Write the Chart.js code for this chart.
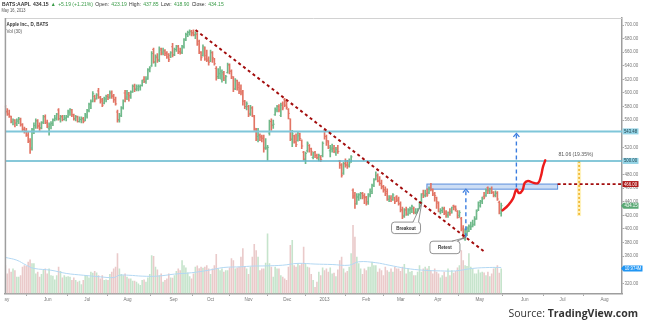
<!DOCTYPE html>
<html>
<head>
<meta charset="utf-8">
<title>Apple Inc. daily bars</title>
<script src="https://cdn.jsdelivr.net/npm/chart.js@4.4.1/dist/chart.umd.min.js"></script>
<style>
  html, body { margin: 0; padding: 0; background: #fff; }
  #wrap { position: relative; width: 645px; height: 324px; }
</style>
</head>
<body>
<div id="wrap"><canvas id="aaplChart" width="645" height="324"></canvas></div>
<script>
// BATS:AAPL daily bars, 1 May 2012 .. 16 May 2013, x = trading-day index
const opens = [
  580,573,569,565,557,560,555,558,561,553, 547,544,538,529,519,547,552,559,552,549,
  557,565,556,548,553,555,561,562,575,562, 565,561,563,565,571,575,568,562,565,558,
  561,562,560,566,574,584,588,595,592,603, 593,590,585,591,595,594,600,596,590,572,
  560,567,578,600,594,598,594,602,610,605, 606,609,611,620,617,621,634,640,664,645,
  652,648,665,660,662,659,657,655,668,656, 664,669,661,660,668,679,686,689,691,689,
  685,686,676,660,655,666,655,650,647,659, 650,636,624,629,620,628,619,630,641,632,
  622,606,618,612,606,602,588,580,580,570, 578,565,546,536,538,536,535,520,518,541,
  558,553,568,575,580,567,584,590,588,576, 562,532,537,528,530,540,530,513,502,515,
  523,518,505,513,508,503,506,508,544,536, 528,515,519,518,512,519,500,494,482,496,
  494,494,499,457,449,437,447,451,452,449, 446,440,450,455,464,473,479,470,467,462,
  458,455,443,445,443,446,448,444,437,428, 420,428,421,428,430,430,425,424,430,440,
  452,449,452,453,461,458,452,446,438,425, 427,430,423,420,424,426,434,432,426,420,
  415,401,385,392,401,403,404,407,415,428, 434,441,448,449,461,457,459,454,450,453,
  439,423.19
];
const highs = [
  582,577,575,566,562,561,562,564,563,555, 550,548,543,533,548,556,562,561,556,558,
  567,568,560,556,558,562,567,570,577,567, 567,567,567,575,577,576,569,567,566,565,
  565,564,570,576,585,590,602,597,599,607, 595,592,594,597,598,603,603,598,594,575,
  570,580,590,604,604,601,603,612,613,612, 612,612,619,624,624,636,639,661,666,656,
  658,668,666,666,664,661,658,661,673,666, 670,670,666,670,680,688,691,693,692,693,
  690,688,678,661,671,668,663,653,663,661, 651,639,636,639,634,632,626,644,643,634,
  624,621,619,616,612,604,589,587,582,582, 580,567,548,548,540,538,538,533,523,560,
  562,560,578,582,583,585,587,592,590,577, 562,545,538,540,543,541,531,514,513,528,
  524,519,513,514,510,510,508,528,545,538, 530,523,525,523,520,523,501,496,498,503,
  501,503,508,459,454,452,452,454,454,452, 448,452,459,466,474,484,481,477,472,464,
  462,459,449,449,452,447,449,447,440,432, 430,432,430,432,435,432,430,430,440,452,
  457,457,459,462,467,459,454,447,440,430, 432,432,427,425,430,432,435,434,427,427,
  417,405,400,403,406,410,413,418,428,440, 442,447,454,459,462,460,462,455,456,455,
  441,437.85
];
const lows = [
  570,567,564,556,553,550,552,555,551,544, 541,536,527,511,516,540,548,548,545,547,
  555,555,549,538,547,552,559,560,560,557, 559,560,559,564,567,565,560,559,557,557,
  556,556,559,563,572,577,587,587,591,592, 585,580,584,587,590,592,592,586,582,557,
  557,565,576,587,590,588,592,601,602,603, 603,604,610,615,614,620,631,639,644,639,
  645,646,656,656,655,651,646,652,653,655, 661,658,657,658,666,677,683,685,684,684,
  680,670,658,648,654,648,646,641,646,645, 641,619,621,621,616,618,614,629,628,621,
  602,605,604,599,597,582,577,575,565,567, 565,545,530,528,530,528,513,517,501,538,
  545,548,567,572,572,565,575,580,576,562, 530,521,526,521,529,530,518,501,496,513,
  513,508,503,505,503,500,499,506,532,523, 518,506,513,512,508,511,489,476,480,491,
  489,491,498,445,430,436,442,444,444,437, 435,436,447,452,462,472,469,464,459,454,
  449,442,440,440,442,437,440,435,425,415, 417,420,420,422,424,422,422,417,427,437,
  446,447,448,452,456,449,441,430,425,422, 424,421,417,417,420,423,428,426,416,417,
  397,386,383,390,396,399,403,405,414,427, 432,437,444,448,452,452,452,447,447,442,
  422,418.90
];
const closes = [
  572,569,566,558,560,556,560,562,554,546, 544,538,529,517,546,552,559,551,548,556,
  565,557,551,554,555,560,563,569,562,565, 561,563,565,573,576,568,562,565,558,561,
  562,558,568,574,583,587,599,590,597,594, 588,582,592,595,593,600,595,590,584,561,
  566,578,588,592,600,596,601,610,606,609, 610,611,618,617,620,634,637,658,646,654,
  649,663,658,662,658,653,649,659,656,664, 668,660,659,668,678,686,689,690,687,686,
  688,672,660,652,668,650,648,645,660,652, 643,624,628,632,630,622,624,642,632,624,
  606,619,608,602,600,588,580,584,568,578, 567,548,532,538,535,533,518,520,520,558,
  552,554,576,580,575,582,578,582,579,570, 532,540,528,524,537,533,522,503,511,526,
  518,514,512,508,505,508,502,526,536,530, 520,517,519,514,517,514,494,479,496,494,
  492,497,506,447,437,447,450,452,447,447, 438,451,452,464,472,478,471,467,462,457,
  452,444,446,443,450,440,442,437,428,418, 428,422,428,429,433,424,425,429,439,450,
  450,450,450,459,458,450,449,440,426,427, 429,425,421,424,423,432,433,429,417,424,
  399,389,388,396,404,403,406,414,426,439, 440,444,447,457,456,459,454,449,452,444,
  428.96,434.15
];
// volume, millions of shares
const volumes = [
  12.4,8.8,11.0,9.5,11.0,10.2,7.3,7.3,8.0,11.7, 12.4,12.0,13.9,14.9,13.2,13.2,8.8,9.5,7.3,8.5,
  10.5,11.0,8.8,11.0,8.0,7.8,6.1,8.0,11.7,9.9, 7.0,8.0,7.3,7.6,7.3,5.9,7.0,5.9,5.1,5.6,
  4.1,5.9,8.0,8.0,7.0,9.5,9.1,9.9,9.2,8.0, 6.6,8.0,5.9,6.1,5.9,8.5,9.5,11.0,11.7,17.6,
  11.0,8.5,8.0,8.8,7.3,6.6,6.6,5.6,5.6,5.1, 4.4,3.7,5.9,6.1,5.1,7.0,8.5,16.8,16.4,11.7,
  10.5,8.0,8.8,5.1,5.9,6.6,8.8,7.0,6.9,8.0, 9.9,11.0,10.2,14.6,12.4,11.4,9.2,7.6,6.6,8.8,
  11.7,12.3,11.1,11.7,11.3,11.7,12.4,11.0,8.5,11.0, 12.4,17.3,11.0,10.2,11.0,9.5,10.2,10.2,11.4,15.4,
  14.6,11.0,11.4,11.7,16.1,19.8,12.0,11.0,8.5,11.7, 16.1,21.7,19.0,16.1,10.2,11.0,11.0,13.5,26.3,13.2,
  11.7,7.3,11.7,11.0,11.0,8.0,7.3,6.6,5.9,11.7, 21.2,23.4,12.4,11.7,13.2,12.4,13.2,20.5,13.2,11.7,
  11.4,8.5,5.9,2.9,5.1,9.5,8.0,11.4,10.2,11.0, 9.5,11.4,8.8,9.1,7.6,10.5,14.6,16.1,11.0,9.2,
  9.9,11.7,17.6,30.0,24.9,16.1,13.2,11.0,8.5,11.0, 10.2,11.7,11.7,13.9,12.4,12.4,9.5,11.0,10.2,8.0,
  11.7,10.2,9.5,11.0,9.5,11.7,11.0,11.0,9.9,11.7, 12.9,8.8,11.0,9.5,9.9,8.0,8.0,9.5,12.4,9.5,
  11.0,11.7,11.0,12.0,10.2,8.8,11.0,9.5,8.8,7.0, 8.0,9.5,7.3,11.0,8.0,10.2,9.1,9.9,11.4,12.4,
  19.0,14.6,12.4,12.0,17.6,11.7,11.0,8.8,8.8,10.5, 9.2,9.5,9.2,8.0,9.5,7.6,8.8,11.0,11.4,12.4,
  9.1,10.974
];
// 30-day volume average, read at selected bars
const volAvgIdx = [0,6,11,15,24,32,41,50,57,60,65,72,80,89,98,107,115,124,130,137,146,154,163,172,181,186,195,202,211,220,229,237,246,255,261];
const volAvg = [15.8,14.6,12.4,11.0,10.2,8.8,8.0,7.3,7.0,8.0,8.0,7.6,7.6,8.5,9.1,10.2,11.4,11.7,12.0,12.1,12.4,13.2,12.9,12.7,12.4,13.9,13.5,12.4,11.0,10.2,9.9,9.9,11.0,11.4,11.4];

const monthTicks = [-0.3, 22.3, 43.1, 64.3, 88.5, 108, 128, 148.4, 168, 190, 208.2, 227.7, 249.7, 273.4, 293.3, 315.4];
const monthLabels = ['May','Jun','Jul','Aug','Sep','Oct','Nov','Dec','2013','Feb','Mar','Apr','May','Jun','Jul','Aug'];
const priceTicks = [320,360,380,400,420,440,460,480,500,520,560,580,600,620,640,660,680,700];

// drawn levels
const resistance = 543.48;
const support = 500;
const neckline = 466;
const rangeLow = 418.94;
const zone = { from: 221.9, to: 290.7, top: 466, bottom: 458.5 };
const trend = [{ x: 100.1, y: 692.6 }, { x: 252.4, y: 366 }];
const projection = [
  { x: 261.7, y: 427.3 }, { x: 264.6, y: 434.7 }, { x: 267.2, y: 444.6 }, { x: 269.0, y: 457.8 },
  { x: 270.4, y: 452.8 }, { x: 272.2, y: 456.8 }, { x: 273.4, y: 467.6 }, { x: 275.1, y: 470.5 },
  { x: 277.7, y: 468.2 }, { x: 280.4, y: 467.6 }, { x: 281.8, y: 476.4 }, { x: 283.0, y: 491.2 },
  { x: 284.2, y: 501.0 }
];
const arrowUpA = [{ x: 242.4, y: 387.6 }, { x: 242.4, y: 457 }];
const arrowUpB = [{ x: 269.0, y: 461 }, { x: 269.0, y: 539 }];
const rangeIdx = 302;

const xMin = -0.26, xMax = 324.6;
const last = closes.length - 1;
const FONT = "'Liberation Sans', 'DejaVu Sans', Arial, sans-serif";

const isUp = closes.map((c, i) => c >= opens[i]);
const barColors = isUp.map(u => u ? '#6fb98a' : '#e27565');
const volColors = isUp.map(u => u ? '#c6e4cc' : '#eacaca');

function text(ctx, str, x, y, font, color, align, sx) {
  ctx.save();
  ctx.font = font;
  ctx.fillStyle = color;
  ctx.textBaseline = 'middle';
  ctx.textAlign = align || 'left';
  ctx.translate(x, y);
  ctx.scale(sx || 1, 1);
  ctx.fillText(str, 0, 0);
  ctx.restore();
}

function tag(ctx, yPix, str, bg, fg, width, pointer) {
  const x0 = 622.5, h = 6;
  ctx.save();
  ctx.fillStyle = bg;
  ctx.beginPath();
  if (pointer) {
    ctx.moveTo(x0 - 1.5, yPix);
    ctx.lineTo(x0 + 1, yPix - h / 2);
  } else {
    ctx.moveTo(x0, yPix - h / 2);
  }
  ctx.lineTo(x0 + width, yPix - h / 2);
  ctx.lineTo(x0 + width, yPix + h / 2);
  ctx.lineTo(pointer ? x0 + 1 : x0, yPix + h / 2);
  ctx.closePath();
  ctx.fill();
  ctx.restore();
  text(ctx, str, x0 + width / 2 + (pointer ? 0.5 : 0), yPix + 0.3, '4.5px ' + FONT, fg, 'center', 0.95);
}

function callout(ctx, cx, cy, w, h, baseA, baseB, ax, ay, str) {
  ctx.save();
  ctx.lineWidth = 0.8;
  ctx.strokeStyle = '#777';
  ctx.fillStyle = '#fff';
  ctx.beginPath();
  ctx.roundRect(cx - w / 2, cy - h / 2, w, h, 3);
  ctx.fill();
  ctx.stroke();
  const top = cy - h / 2;
  ctx.beginPath();
  ctx.moveTo(cx + baseA, top + 0.6);
  ctx.lineTo(ax, ay);
  ctx.lineTo(cx + baseB, top + 0.6);
  ctx.closePath();
  ctx.fill();
  ctx.beginPath();
  ctx.moveTo(cx + baseA, top);
  ctx.lineTo(ax, ay);
  ctx.lineTo(cx + baseB, top);
  ctx.stroke();
  ctx.restore();
  text(ctx, str, cx, cy + 0.3, 'bold 5px ' + FONT, '#333', 'center', 0.9);
}

const decor = {
  id: 'decor',
  beforeDatasetsDraw(chart) {
    const { ctx, chartArea: a, scales: { x, y } } = chart;
    ctx.save();
    ctx.beginPath();
    ctx.rect(a.left, a.top, a.right - a.left, a.bottom - a.top);
    ctx.clip();
    // resistance zone box
    const zx1 = x.getPixelForValue(zone.from), zx2 = x.getPixelForValue(zone.to);
    const zy1 = y.getPixelForValue(zone.top), zy2 = y.getPixelForValue(zone.bottom);
    ctx.fillStyle = 'rgba(192, 214, 243, 0.8)';
    ctx.fillRect(zx1, zy1, zx2 - zx1, zy2 - zy1);
    ctx.strokeStyle = '#5a8edb';
    ctx.lineWidth = 1;
    ctx.strokeRect(zx1, zy1, zx2 - zx1, zy2 - zy1);
    // measured move band
    const rx = x.getPixelForValue(rangeIdx);
    const ry1 = y.getPixelForValue(support), ry2 = y.getPixelForValue(rangeLow);
    ctx.fillStyle = 'rgba(255, 236, 160, 0.7)';
    ctx.fillRect(rx - 2, ry1, 4, ry2 - ry1);
    ctx.strokeStyle = '#eea914';
    ctx.lineWidth = 1.4;
    ctx.setLineDash([2, 2]);
    ctx.beginPath();
    ctx.moveTo(rx, ry1);
    ctx.lineTo(rx, ry2);
    ctx.stroke();
    ctx.restore();
  },
  afterDatasetsDraw(chart) {
    const { ctx, scales: { x, y } } = chart;
    // arrow heads on the dashed targets
    ctx.save();
    ctx.strokeStyle = '#3b7de0';
    ctx.lineWidth = 1.3;
    [arrowUpA, arrowUpB].forEach(seg => {
      const px = x.getPixelForValue(seg[1].x), py = y.getPixelForValue(seg[1].y) - 1;
      ctx.beginPath();
      ctx.moveTo(px - 3, py + 3.5);
      ctx.lineTo(px, py);
      ctx.lineTo(px + 3, py + 3.5);
      ctx.stroke();
    });
    ctx.restore();

    callout(ctx, x.getPixelForValue(210.9), y.getPixelForValue(401.6), 29, 11.5, 7, 12.5,
      x.getPixelForValue(219.1), y.getPixelForValue(437.2), 'Breakout');
    callout(ctx, x.getPixelForValue(231.4), y.getPixelForValue(372.8), 30, 12.5, 7, 12,
      x.getPixelForValue(242.4), y.getPixelForValue(387.6), 'Retest');

    const move = (support - rangeLow).toFixed(2);
    const pct = ((support - rangeLow) / rangeLow * 100).toFixed(2);
    text(ctx, move + ' (' + pct + '%)', x.getPixelForValue(291.2), y.getPixelForValue(509.9),
      '5.5px ' + FONT, '#555', 'left', 0.92);

    text(ctx, 'Apple Inc., D, BATS', 6.5, 24.5, 'bold 5.5px ' + FONT, '#333', 'left', 0.82);
    text(ctx, 'Vol (30)', 6.5, 31, '5.5px ' + FONT, '#555', 'left', 0.82);
  },
  afterDraw(chart) {
    const { ctx, chartArea: a, scales: { y, yv } } = chart;
    // pane frame
    ctx.save();
    ctx.strokeStyle = '#d2d2d2';
    ctx.lineWidth = 1;
    ctx.beginPath();
    ctx.moveTo(a.left, a.top + 0.5);
    ctx.lineTo(a.right, a.top + 0.5);
    ctx.stroke();
    ctx.strokeStyle = '#9e9e9e';
    ctx.lineWidth = 1.5;
    ctx.beginPath();
    ctx.moveTo(a.left + 0.5, a.top);
    ctx.lineTo(a.left + 0.5, a.bottom);
    ctx.stroke();
    // month labels stop at the pane edge
    ctx.fillStyle = '#fff';
    ctx.fillRect(0, a.bottom + 2, a.left - 0.3, 12);
    ctx.restore();

    // price scale tags
    tag(ctx, y.getPixelForValue(resistance), resistance.toFixed(2), '#93d3e5', '#1d3f4a', 16);
    tag(ctx, y.getPixelForValue(support), support.toFixed(2), '#93d3e5', '#1d3f4a', 16);
    tag(ctx, y.getPixelForValue(neckline), neckline.toFixed(2), '#ad1a1a', '#fff', 16);
    tag(ctx, y.getPixelForValue(closes[last]), closes[last].toFixed(2), '#5aa874', '#fff', 16, true);
    tag(ctx, yv.getPixelForValue(volumes[last]), volumes[last].toFixed(3) + 'M', '#2196f3', '#fff', 20, true);

    // symbol header
    const green = '#3a9b48';
    const chg = closes[last] - closes[last - 1];
    const segs = [
      ['BATS:AAPL', '#333', 'bold '], [closes[last].toFixed(2), '#333', 'bold '],
      ['\u25B2', green, ''], ['+' + chg.toFixed(2) + ' (+' + (chg / closes[last - 1] * 100).toFixed(2) + '%)', green, ''],
      ['Open:', '#333', ''], [opens[last].toFixed(2), green, ''],
      ['High:', '#333', ''], [highs[last].toFixed(2), green, ''],
      ['Low:', '#333', ''], [lows[last].toFixed(2), green, ''],
      ['Close:', '#333', ''], [closes[last].toFixed(2), green, '']
    ];
    ctx.save();
    ctx.textBaseline = 'middle';
    let total = 0;
    segs.forEach(s => { ctx.font = s[2] + '5.5px ' + FONT; total += ctx.measureText(s[0]).width + 2.5; });
    const k = 224 / total;
    ctx.translate(2, 4.3);
    ctx.scale(k, 1);
    let cur = 0;
    segs.forEach(s => {
      ctx.font = s[2] + '5.5px ' + FONT;
      ctx.fillStyle = s[1];
      ctx.fillText(s[0], cur, 0);
      cur += ctx.measureText(s[0]).width + 2.5;
    });
    ctx.restore();
    text(ctx, 'May 16, 2013', 1.5, 10.8, '5.5px ' + FONT, '#555', 'left', 0.72);

    // source line
    ctx.save();
    ctx.textBaseline = 'alphabetic';
    ctx.fillStyle = '#333';
    ctx.font = 'bold 10.5px "Open Sans", ' + FONT;
    const wBold = ctx.measureText('TradingView.com').width;
    ctx.fillText('TradingView.com', 638 - wBold, 316.5);
    ctx.font = '10.5px "Open Sans", ' + FONT;
    const wSrc = ctx.measureText('Source: ').width;
    ctx.fillText('Source: ', 638 - wBold - wSrc, 316.5);
    ctx.restore();
  }
};

const idx = closes.map((c, i) => i);

new Chart(document.getElementById('aaplChart'), {
  type: 'bar',
  data: {
    datasets: [
      {
        // volume
        type: 'bar',
        yAxisID: 'yv',
        data: volumes.map((v, i) => ({ x: i, y: v })),
        backgroundColor: volColors,
        grouped: false,
        barPercentage: 0.85,
        categoryPercentage: 1,
        order: 6
      },
      {
        type: 'line',
        yAxisID: 'yv',
        data: volAvgIdx.map((i, k) => ({ x: i, y: volAvg[k] })),
        borderColor: '#b3d8f3',
        borderWidth: 1,
        pointRadius: 0,
        tension: 0.4,
        order: 5
      },
      {
        // high-low range of each bar
        type: 'bar',
        yAxisID: 'y',
        data: idx.map(i => ({ x: i, y: [lows[i], highs[i]] })),
        backgroundColor: barColors,
        grouped: false,
        barThickness: 1,
        borderSkipped: false,
        order: 3
      },
      {
        // open ticks
        type: 'line',
        yAxisID: 'y',
        data: idx.map(i => ({ x: i - 0.4, y: opens[i] })),
        showLine: false,
        pointStyle: 'line',
        pointRadius: 0.75,
        pointBorderWidth: 0.8,
        pointBorderColor: barColors,
        pointBackgroundColor: barColors,
        pointHoverRadius: 0,
        order: 2
      },
      {
        // close ticks
        type: 'line',
        yAxisID: 'y',
        data: idx.map(i => ({ x: i + 0.4, y: closes[i] })),
        showLine: false,
        pointStyle: 'line',
        pointRadius: 0.75,
        pointBorderWidth: 0.8,
        pointBorderColor: barColors,
        pointBackgroundColor: barColors,
        pointHoverRadius: 0,
        order: 2
      },
      {
        type: 'line', yAxisID: 'y',
        data: [{ x: xMin, y: resistance }, { x: xMax, y: resistance }],
        borderColor: '#7fc6d9', borderWidth: 2, pointRadius: 0, order: 1
      },
      {
        type: 'line', yAxisID: 'y',
        data: [{ x: xMin, y: support }, { x: xMax, y: support }],
        borderColor: '#5fb6cd', borderWidth: 1.5, pointRadius: 0, order: 1
      },
      {
        type: 'line', yAxisID: 'y',
        data: trend,
        borderColor: '#a30d0d', borderWidth: 2, borderDash: [3, 3], pointRadius: 0, order: 0
      },
      {
        type: 'line', yAxisID: 'y',
        data: [{ x: zone.to, y: neckline }, { x: xMax, y: neckline }],
        borderColor: '#a30d0d', borderWidth: 1.8, borderDash: [3, 2.5], pointRadius: 0, order: 0
      },
      {
        type: 'line', yAxisID: 'y',
        data: arrowUpA,
        borderColor: '#3b7de0', borderWidth: 1.4, borderDash: [4, 3], pointRadius: 0, order: 0
      },
      {
        type: 'line', yAxisID: 'y',
        data: arrowUpB,
        borderColor: '#3b7de0', borderWidth: 1.4, borderDash: [4, 3], pointRadius: 0, order: 0
      },
      {
        type: 'line', yAxisID: 'y',
        data: projection,
        borderColor: '#ec1b1b', borderWidth: 2.4, pointRadius: 0, tension: 0.45,
        borderCapStyle: 'round', order: 0
      }
    ]
  },
  options: {
    responsive: false,
    animation: false,
    events: [],
    layout: { autoPadding: false, padding: { left: 3.5, top: 18, right: 0, bottom: 0 } },
    plugins: { legend: { display: false }, tooltip: { enabled: false } },
    scales: {
      x: {
        type: 'linear',
        min: xMin,
        max: xMax,
        offset: false,
        afterBuildTicks: axis => { axis.ticks = monthTicks.map(v => ({ value: v })); },
        afterFit: scale => { scale.height = 30.5; },
        ticks: {
          autoSkip: false,
          maxRotation: 0,
          padding: 0.5,
          color: '#777',
          font: { family: FONT, size: 4.6 },
          callback: (v, i) => monthLabels[i]
        },
        grid: { drawOnChartArea: false, tickLength: 2.5, color: '#a8a8a8' },
        border: { color: '#9e9e9e', width: 1.5 }
      },
      y: {
        position: 'right',
        min: 305,
        max: 710.3,
        afterBuildTicks: axis => { axis.ticks = priceTicks.map(v => ({ value: v })); },
        afterFit: scale => { scale.width = 23; },
        ticks: {
          padding: 0.5,
          color: '#777',
          font: { family: FONT, size: 4.5 },
          callback: v => v.toFixed(2)
        },
        grid: { drawOnChartArea: false, tickLength: 2, color: '#a8a8a8' },
        border: { color: '#9e9e9e', width: 1.5 }
      },
      yv: {
        display: false,
        min: 0,
        max: 120.7
      }
    }
  },
  plugins: [decor]
});
</script>
</body>
</html>
